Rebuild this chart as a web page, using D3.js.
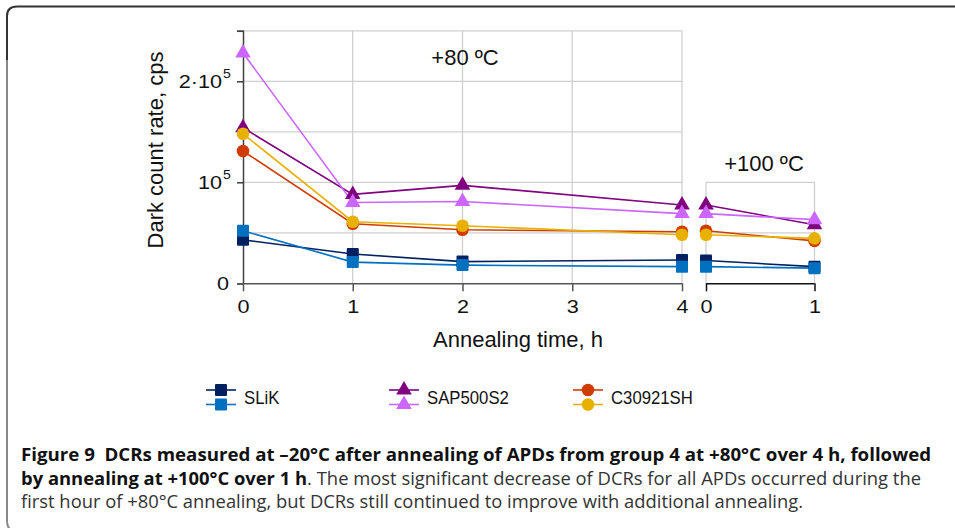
<!DOCTYPE html>
<html lang="en">
<head>
  <meta charset="UTF-8">
  <title>Figure 9 - DCR annealing</title>
  <script src="https://cdn.jsdelivr.net/npm/d3@7"></script>
  <style>
    html, body { margin: 0; padding: 0; background: #fff; }
    svg { display: block; }
    .tick text, .lbl { font-family: "Liberation Sans", Arial, sans-serif; fill: #111; }
    .cap { font-family: "Open Sans", sans-serif; font-size: 18px; }
  </style>
</head>
<body>
  <div class="chart"></div>

  <script type="text/javascript">
    // data
    const hours80 = [0, 1, 2, 4];
    const hours100 = [0, 1];
    // first 4 values: +80 C, last 2: +100 C
    const slikA = [43000, 29000, 21500, 23000, 22500, 16500];
    const slikB = [52000, 21000, 18000, 16500, 16500, 15000];
    const sapA = [154000, 88000, 97000, 77500, 77500, 58000];
    const sapB = [228000, 80000, 81000, 69000, 69000, 63000];
    const c309A = [131000, 59000, 53000, 51000, 52000, 42000];
    const c309B = [148000, 61000, 57000, 48000, 48000, 44500];
    const legendNames = ["SLiK", "SAP500S2", "C30921SH"];

    const series = [
      { vals: slikA, color: "#002060", shape: "square" },
      { vals: slikB, color: "#0070C0", shape: "square" },
      { vals: sapA, color: "#800080", shape: "triangle" },
      { vals: sapB, color: "#CC66FF", shape: "triangle" },
      { vals: c309A, color: "#D03C00", shape: "circle" },
      { vals: c309B, color: "#E8B000", shape: "circle" }
    ];

    const W = 955, H = 528;
    const SX = 1.17; // the chart tick text is a bit stretched sideways
    const svg = d3.select(".chart").append("svg")
      .attr("width", W).attr("height", H);

    // figure frame
    svg.append("path")
      .attr("d", "M7,60 L7,16 Q7,6.5 17,6.5 L960,6.5")
      .attr("fill", "none").attr("stroke", "#333").attr("stroke-width", 2);
    svg.append("path")
      .attr("d", "M7,60 L7,520 Q7,527 10,529")
      .attr("fill", "none").attr("stroke", "#888").attr("stroke-width", 2);

    const x1 = d3.scaleLinear().domain([0, 4]).range([243, 682]);
    const x2 = d3.scaleLinear().domain([0, 1]).range([706, 814.5]);
    const y = d3.scaleLinear().domain([0, 250000]).range([283.3, 30.8]);

    // gridlines
    const grid = svg.append("g").attr("stroke", "#cfcfcf").attr("stroke-width", 1.3);
    [50000, 100000, 150000, 200000, 250000].forEach(v => {
      grid.append("line").attr("x1", x1(0)).attr("x2", x1(4))
        .attr("y1", y(v)).attr("y2", y(v));
    });
    [1, 2, 3, 4].forEach(v => {
      grid.append("line").attr("x1", x1(v)).attr("x2", x1(v))
        .attr("y1", y(250000)).attr("y2", y(0));
    });
    [50000, 100000].forEach(v => {
      grid.append("line").attr("x1", x2(0)).attr("x2", x2(1))
        .attr("y1", y(v)).attr("y2", y(v));
    });
    [0, 1].forEach(v => {
      grid.append("line").attr("x1", x2(v)).attr("x2", x2(v))
        .attr("y1", y(100000)).attr("y2", y(0));
    });

    // axes
    const yAxis = svg.append("g")
      .attr("transform", `translate(${x1(0)},0)`)
      .call(d3.axisLeft(y).tickValues([0, 50000, 100000, 150000, 200000, 250000])
        .tickSize(6).tickFormat(""));
    yAxis.selectAll("line, path").attr("stroke", "#404040").attr("stroke-width", 1.5);

    const yLabels = [
      { v: 0, base: "0", sup: "" },
      { v: 100000, base: "10", sup: "5" },
      { v: 200000, base: "2·10", sup: "5" }
    ];
    yLabels.forEach(d => {
      svg.append("text").attr("class", "lbl")
        .attr("transform", `translate(${d.sup ? 222 : 229},${y(d.v) + 7}) scale(${SX},1)`)
        .attr("text-anchor", "end").style("font-size", "18.5px").text(d.base);
      if (d.sup) {
        svg.append("text").attr("class", "lbl")
          .attr("transform", `translate(223,${y(d.v) - 3}) scale(${SX},1)`)
          .style("font-size", "12px").text(d.sup);
      }
    });

    const xAxis1 = svg.append("g")
      .attr("transform", `translate(0,${y(0)})`)
      .call(d3.axisBottom(x1).tickValues([0, 1, 2, 3, 4]).tickSize(8).tickPadding(9)
        .tickFormat(d3.format("d")));
    xAxis1.select("path").attr("stroke", "#555").attr("stroke-width", 1.5).attr("d", `M${x1(0) - 6},0.5H${x1(4)}`);
    xAxis1.selectAll("line").attr("stroke", "#555").attr("stroke-width", 1.5);

    const xAxis2 = svg.append("g")
      .attr("transform", `translate(0,${y(0)})`)
      .call(d3.axisBottom(x2).tickValues([0, 1]).tickSize(8).tickPadding(9)
        .tickFormat(d3.format("d")));
    xAxis2.select("path").attr("stroke", "#111").attr("stroke-width", 1.5).attr("d", `M${x2(0)},0.5H${x2(1)}`);
    xAxis2.selectAll("line").attr("stroke", "#111").attr("stroke-width", 1.5);

    svg.selectAll(".tick text").style("font-size", "18.5px").attr("fill", "#111")
      .attr("transform", `scale(${SX},1)`).attr("x", 0);

    // axis titles and annotations
    svg.append("text").attr("class", "lbl")
      .attr("transform", "translate(163,150) rotate(-90)")
      .attr("text-anchor", "middle").style("font-size", "22px")
      .text("Dark count rate, cps");
    svg.append("text").attr("class", "lbl")
      .attr("x", 518).attr("y", 347).attr("text-anchor", "middle")
      .style("font-size", "22px").text("Annealing time, h");
    svg.append("text").attr("class", "lbl")
      .attr("x", 465).attr("y", 65).attr("text-anchor", "middle")
      .style("font-size", "22px").text("+80 ºC");
    svg.append("text").attr("class", "lbl")
      .attr("x", 764).attr("y", 171).attr("text-anchor", "middle")
      .style("font-size", "22px").text("+100 ºC");

    // markers
    function drawMarker(g, shape, cx, cy, color) {
      if (shape === "square") {
        g.append("rect").attr("x", cx - 6).attr("y", cy - 6)
          .attr("width", 12).attr("height", 12).attr("rx", 1).attr("fill", color);
      } else if (shape === "triangle") {
        g.append("path").attr("d", d3.symbol(d3.symbolTriangle, 105)())
          .attr("transform", `translate(${cx},${cy})`).attr("fill", color);
      } else {
        g.append("circle").attr("cx", cx).attr("cy", cy).attr("r", 6.3).attr("fill", color);
      }
    }

    const line1 = d3.line().x((d, i) => x1(hours80[i])).y(d => y(d));
    const line2 = d3.line().x((d, i) => x2(hours100[i])).y(d => y(d));
    const marks = svg.append("g");
    series.forEach(s => {
      const a = s.vals.slice(0, 4), b = s.vals.slice(4);
      marks.append("path").attr("d", line1(a)).attr("fill", "none")
        .attr("stroke", s.color).attr("stroke-width", 1.6);
      marks.append("path").attr("d", line2(b)).attr("fill", "none")
        .attr("stroke", s.color).attr("stroke-width", 1.6);
    });
    series.forEach(s => {
      s.vals.slice(0, 4).forEach((v, i) => drawMarker(marks, s.shape, x1(hours80[i]), y(v), s.color));
      s.vals.slice(4).forEach((v, i) => drawMarker(marks, s.shape, x2(hours100[i]), y(v), s.color));
    });

    // legend
    const legX = [206, 389, 573];
    legendNames.forEach((name, k) => {
      const g = svg.append("g");
      [0, 1].forEach(j => {
        const s = series[k * 2 + j];
        const ly = 390 + j * 14.5;
        g.append("line").attr("x1", legX[k]).attr("x2", legX[k] + 30)
          .attr("y1", ly).attr("y2", ly).attr("stroke", s.color).attr("stroke-width", 1.6);
        drawMarker(g, s.shape, legX[k] + 15, ly, s.color);
      });
      g.append("text").attr("class", "lbl")
        .attr("transform", `translate(${legX[k] + 38},404) scale(0.93,1)`)
        .style("font-size", "18px").text(name);
    });

    // caption
    const cap = [
      [{ t: "Figure 9\u00A0 DCRs measured at \u201320\u00B0C after annealing of APDs from group 4 at +80\u00B0C over 4 h, followed", b: true }],
      [{ t: "by annealing at +100\u00B0C over 1 h", b: true }, { t: ". The most significant decrease of DCRs for all APDs occurred during the", b: false }],
      [{ t: "first hour of +80\u00B0C annealing, but DCRs still continued to improve with additional annealing.", b: false }]
    ];
    const capLen = [910, 900, 782];
    cap.forEach((parts, i) => {
      const t = svg.append("text").attr("class", "cap")
        .attr("x", 21).attr("y", 461 + i * 23.5)
        .attr("textLength", capLen[i]).attr("lengthAdjust", "spacingAndGlyphs");
      parts.forEach(p => {
        t.append("tspan").text(p.t)
          .attr("font-weight", p.b ? "bold" : "normal")
          .attr("fill", p.b ? "#111" : "#333");
      });
    });
  </script>
</body>
</html>
